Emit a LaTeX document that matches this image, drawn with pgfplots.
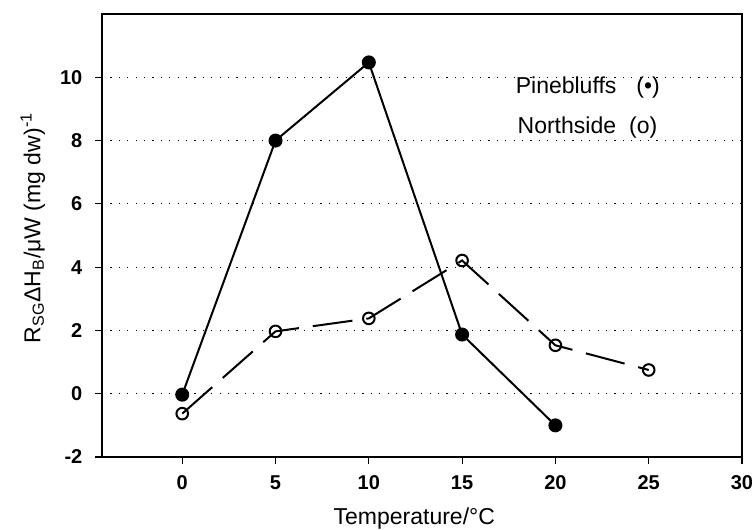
\documentclass[border=0pt]{standalone}
\usepackage{fontspec}
\setmainfont{Liberation Sans}
\usepackage{pgfplots}
\pgfplotsset{compat=1.18}
\begin{document}
\begin{tikzpicture}
\begin{axis}[
  scale only axis, width=320pt, height=221.5pt,
  xmin=-4.3, xmax=30, ymin=-2, ymax=12,
  xtick={0,5,...,30}, ytick={-2,0,...,10},
  tick align=outside, xtick pos=bottom, ytick pos=left,
  major tick length=3.5pt,
  tick style={black, line width=0.6pt},
  axis line style={black, line width=0.9pt},
  /pgf/number format/assume math mode=true,
  ticklabel style={font=\fontsize{10}{12}\selectfont\bfseries},
  xticklabel style={anchor=center, yshift=-9.5pt},
  yticklabel style={anchor=east, xshift=-2.8pt},
  ymajorgrids,
  grid style={black, line width=0.55pt, dash pattern=on 0.6pt off 3.6pt},
  xlabel={Temperature/°C},
  ylabel={R\textsubscript{SG}ΔH\textsubscript{B}/μW (mg dw)\textsuperscript{-1}},
  label style={font=\fontsize{11.5}{13}\selectfont},
  xlabel style={at={(axis description cs:0.488,-0.138)}, anchor=center},
  ylabel style={at={(axis description cs:-0.108,0.517)}, anchor=center},
  clip=false,
]
\addplot[black, line width=1pt, mark=*, mark size=3pt, mark options={solid, fill=black}]
  coordinates {(0,-0.03) (5,8.0) (10,10.47) (15,1.87) (20,-1.0)};
\addplot[black, line width=1pt, dash pattern=on 20pt off 7pt, mark=o, mark size=2.9pt, mark options={solid, fill=white}]
  coordinates {(0,-0.63) (5,1.97) (10,2.38) (15,4.21) (20,1.53) (25,0.75)};
\node[anchor=base west, font=\fontsize{11.5}{13}\selectfont] at (axis cs:17.5,9.49) {Pinebluffs\hspace{10pt}(\textbullet)};
\node[anchor=base west, font=\fontsize{11.5}{13}\selectfont] at (axis cs:17.6,8.22) {Northside\hspace{6.5pt}(o)};
\coordinate (sw) at (rel axis cs:0,0);
\coordinate (ne) at (rel axis cs:1,1);
\end{axis}
\pgfresetboundingbox
\path ([xshift=-51pt,yshift=-36.5pt]sw) rectangle ([xshift=5pt,yshift=7pt]ne);
\end{tikzpicture}
\end{document}
